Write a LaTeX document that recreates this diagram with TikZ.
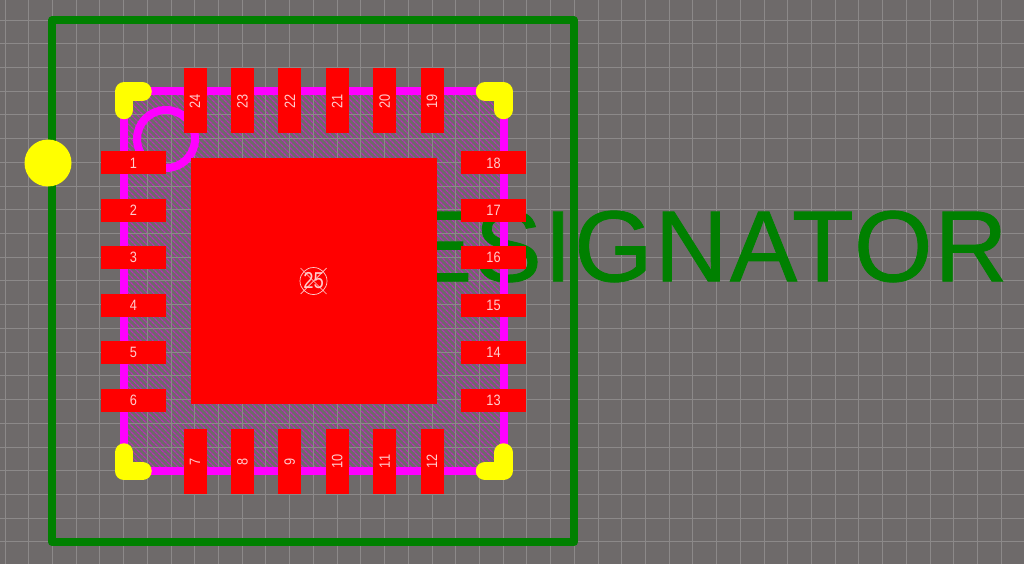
\documentclass[tikz,border=0pt]{standalone}
\usepackage{graphicx}
\usepackage{fontspec}
\setmainfont{Liberation Sans}
\newfontfamily\silkfont[LetterSpace=2.1,FakeBold=0.8]{Liberation Sans}
\usetikzlibrary{patterns.meta}

\begin{document}
\begin{tikzpicture}[
		x=1pt, y=-1pt,
		inner sep=0pt, outer sep=0pt,
		gridline/.style={color=gridgray, line width=0.9pt},
		outline/.style={color=padmagenta, line width=8pt},
		corner/.style={color=markyellow, line width=18.5pt, line cap=round, line join=round},
		hpad/.style={fill=padred, minimum width=65pt, minimum height=23pt, text=labelpink},
		vpad/.style={fill=padred, minimum width=23pt, minimum height=65pt, text=labelpink},
	]
		% Colors
		\definecolor{boardgray}{RGB}{110,106,106}
		\definecolor{gridgray}{RGB}{140,137,137}
		\definecolor{padmagenta}{RGB}{255,0,255}
		\definecolor{padred}{RGB}{255,0,0}
		\definecolor{markyellow}{RGB}{255,255,0}
		\definecolor{silkgreen}{RGB}{0,128,0}
		\definecolor{labelpink}{RGB}{255,205,205}
		\definecolor{hatchpurple}{RGB}{185,45,185}

		% Board
		\useasboundingbox (0,0) rectangle (1024,564);
		\fill[boardgray] (0,0) rectangle (1024,564);

		% Hatching
		\fill[pattern={Lines[angle=-45,distance=4pt,line width=1.3pt]}, pattern color=hatchpurple]
			(123.5,91) rectangle (503.5,470.5);

		% Grid
		\foreach \n in {0,...,43}
			\draw[gridline] ({5+\n*23.72},0) -- ({5+\n*23.72},564);
		\foreach \n in {0,...,23}
			\draw[gridline] (0,{20+\n*23.72}) -- (1024,{20+\n*23.72});

		% Silkscreen
		\draw[silkgreen, line width=8pt, line join=round] (52,20.5) rectangle (574,542);
		\node[anchor=base west, text=silkgreen, font=\silkfont\fontsize{101}{101}\selectfont] (designator)
			at (330,281.3) {DESIGNATOR};

		% Outline
		\draw[outline] (123.5,91) rectangle (503.5,470.5);
		\draw[outline] (166,139) circle (29);

		% Corners
		\draw[corner] (124,110) -- (124,91.5) -- (142.5,91.5);
		\draw[corner] (485,91.5) -- (503.5,91.5) -- (503.5,110);
		\draw[corner] (124,452.5) -- (124,471) -- (142.5,471);
		\draw[corner] (485,471) -- (503.5,471) -- (503.5,452.5);
		\fill[markyellow] (48,163) circle (23.5);

		% Pads
		\node[fill=padred, minimum size=246pt] (pad25) at (313.5,281) {};
		\foreach \n in {1,...,6} {
			\pgfmathtruncatemacro{\m}{19-\n}
			\node[hpad] (pad\n) at (133.5,{163+(\n-1)*47.4})
				{\fontsize{15}{15}\selectfont\scalebox{.85}[1]{\n}};
			\node[hpad] (pad\m) at (493.5,{163+(\n-1)*47.4})
				{\fontsize{15}{15}\selectfont\scalebox{.85}[1]{\m}};
		}
		\foreach \n in {7,...,12} {
			\pgfmathtruncatemacro{\m}{31-\n}
			\node[vpad] (pad\n) at ({195+(\n-7)*47.4},461.5)
				{\rotatebox{90}{\fontsize{15}{15}\selectfont\scalebox{.85}[1]{\n}}};
			\node[vpad] (pad\m) at ({195+(\n-7)*47.4},101)
				{\rotatebox{90}{\fontsize{15}{15}\selectfont\scalebox{.85}[1]{\m}}};
		}

		% Centre mark
		\draw[labelpink, line width=0.7pt] (pad25.center) circle (13.5);
		\draw[labelpink, line width=0.7pt] (300.5,268) -- (326.5,294);
		\draw[labelpink, line width=0.7pt] (300.5,294) -- (326.5,268);
		\node[text=labelpink] (label25) at (pad25.center)
			{\fontsize{23}{23}\selectfont\scalebox{.8}[1]{25}};
	\end{tikzpicture}
\end{document}
